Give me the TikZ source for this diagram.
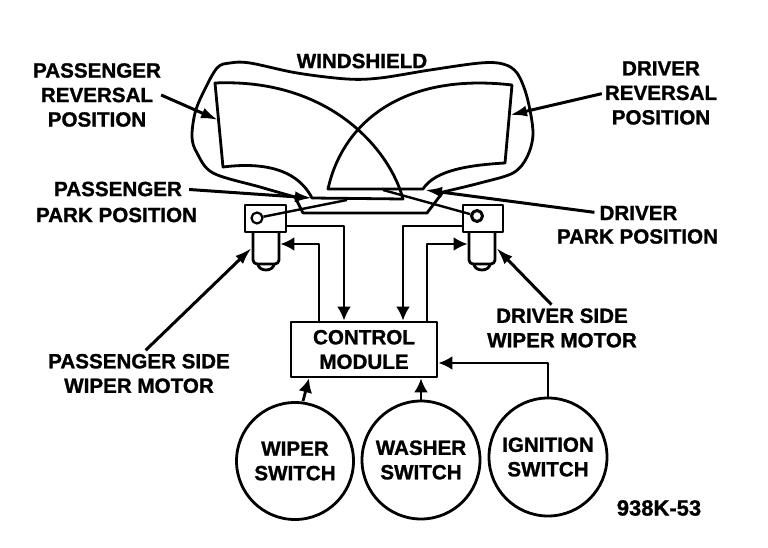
\documentclass[tikz,border=0pt]{standalone}
\usepackage{fontspec}
\setmainfont[BoldFeatures={FakeBold=1.2}]{Liberation Sans}
\usetikzlibrary{arrows.meta}
\tikzset{
  lbl/.style={font=\fontsize{20.6}{24.5}\selectfont\bfseries,align=center,inner sep=0pt},
  boxnode/.style={draw,line width=2.8pt,fill=white,inner sep=0pt},
  switchnode/.style={boxnode,circle,font=\fontsize{20.6}{24.5}\selectfont\bfseries,align=center},
  wire/.style={line width=2.8pt},
  wirearrow/.style={wire,-{Latex[length=14pt,width=14pt]}},
  leader/.style={line width=3pt,-{Latex[length=17pt,width=11pt]}}
}
\begin{document}
\begin{tikzpicture}[x=1pt,y=-1pt,line join=round]
\useasboundingbox (0,0) rectangle (768,548);
% windshield outline
\draw[line width=2.8pt] plot[smooth,tension=0.55] coordinates {(295,197) (260,187) (213,173) (197,153) (192,137) (195,113) (203,93) (217,68) (230,63) (250,63) (297,73) (347,79) (380,78) (430,70) (480,63) (503,64) (517,73) (527,97) (533,133) (527,157) (513,173) (480,183) (443,192)};
\draw[line width=2.8pt] (295,197)--(303,213)--(427,213)--(443,192);
% passenger pattern
\draw[line width=2.8pt] (215,83)--(223,167) .. controls (255,163) and (295,165) .. (312,198)--(403,199) .. controls (390,150) and (330,78) .. (215,83)--cycle;
% driver pattern
\draw[line width=2.8pt] (328,189) .. controls (342,125) and (400,72) .. (512,85)--(505,163) .. controls (470,165) and (435,170) .. (423,189)--cycle;
% motors
\draw[line width=2.8pt] (258,264) arc (180:0:8 and 6);
\draw[line width=2.8pt] (474,264) arc (180:0:8 and 6);
\node[boxnode,rounded corners=4pt,minimum width=26pt,minimum height=41pt] (leftbody) at (266,243.5) {};
\node[boxnode,rounded corners=4pt,minimum width=26pt,minimum height=41pt] (rightbody) at (482,243.5) {};
\node[boxnode,minimum width=41pt,minimum height=27pt] (leftbox) at (265.5,218.5) {};
\node[boxnode,minimum width=40pt,minimum height=27pt] (rightbox) at (483,218.5) {};
\node[draw,circle,line width=2.2pt,minimum size=11pt,inner sep=0pt] (leftpivot) at (257,218) {};
\node[draw,circle,line width=3pt,minimum size=11pt,inner sep=0pt] (rightpivot) at (477,216) {};
% wiper arms
\coordinate (lefttip) at (347,200);
\coordinate (righttip) at (383,190);
\draw[line width=2.4pt] (leftpivot)--(lefttip);
\draw[line width=2.4pt] (rightpivot)--(righttip);
% module and switches
\node[boxnode,lbl,draw,line width=2.8pt,minimum width=146pt,minimum height=55pt] (module) at (364,349.5) {CONTROL\\MODULE};
\node[switchnode,minimum size=117pt] (wiper) at (295,461) {WIPER\\SWITCH};
\node[switchnode,minimum size=118pt] (washer) at (421,460) {WASHER\\SWITCH};
\node[switchnode,minimum size=118pt] (ignition) at (548,457) {IGNITION\\SWITCH};
% wiring
\draw[wirearrow] (leftbox.east |- 0,226)-|(module.north -| 344,0);
\draw[wirearrow] (rightbox.west |- 0,226)-|(module.north -| 403,0);
\draw[wirearrow] (module.north -| 319,0)|-(leftbody.east |- 0,244);
\draw[wirearrow] (module.north -| 427,0)|-(rightbody.west |- 0,244);
\draw[wirearrow] (ignition.north)|-(module.east |- 0,363);
\draw[wirearrow] (wiper.north -| 303,0)--(module.south -| 309,0);
\draw[wirearrow] (washer.north -| 421,0)--(module.south -| 421,0);
% labels
\node[lbl] (windshield) at (362,61) {WINDSHIELD};
\node[lbl] (passrev) at (97,95) {PASSENGER\\REVERSAL\\POSITION};
\node[lbl] (drivrev) at (661,93) {DRIVER\\REVERSAL\\POSITION};
\node[lbl] (passpark) at (118,189) {PASSENGER};
\node[lbl] (passparkpos) at (116.5,215) {PARK POSITION};
\node[lbl] (drivpark) at (638.5,213) {DRIVER};
\node[lbl] (drivparkpos) at (637.5,236.5) {PARK POSITION};
\node[lbl] (drivside) at (562,328) {DRIVER SIDE\\WIPER MOTOR};
\node[lbl] (passside) at (139,373.5) {PASSENGER SIDE\\WIPER MOTOR};
\node[font=\fontsize{22}{26}\selectfont\bfseries,inner sep=0pt] (figno) at (659,508) {938K-53};
% leaders
\coordinate (passrevtip) at (218,120);
\coordinate (drivrevtip) at (510,115);
\coordinate (passparktip) at (312,198);
\coordinate (drivparktip) at (425,190);
\draw[leader] (passrev.east)--(passrevtip);
\draw[leader,shorten <=3pt] (drivrev.west)--(drivrevtip);
\draw[leader,shorten <=7pt] (passpark.east)--(passparktip);
\draw[leader,shorten <=5pt] (drivpark.west)--(drivparktip);
\draw[leader,shorten <=5pt] (passside.north -| 142,0)--(leftbody.west |- 0,248);
\draw[leader,shorten <=5pt] (drivside.north -| 555,0)--(rightbody.east |- 0,248);
\end{tikzpicture}
\end{document}
